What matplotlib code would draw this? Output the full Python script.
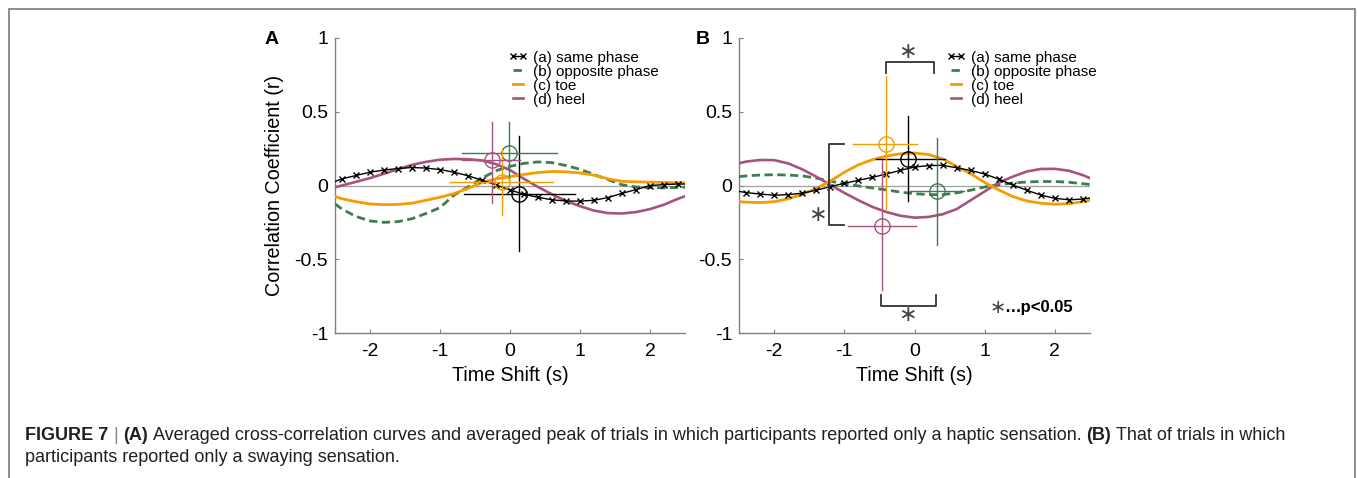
import matplotlib
matplotlib.use("Agg")
import matplotlib.pyplot as plt
from matplotlib.patches import Rectangle

plt.rcParams['font.family'] = ['Liberation Sans', 'DejaVu Sans']

# time axis samples (s)
t = [-2.5, -2.4, -2.2, -2.0, -1.8, -1.6, -1.4, -1.2, -1.0, -0.8, -0.6, -0.4, -0.2,
     0.0, 0.2, 0.4, 0.6, 0.8, 1.0, 1.2, 1.4, 1.6, 1.8, 2.0, 2.2, 2.4, 2.5]

# panel A : haptic sensation only
a_same  = [0.027, 0.045, 0.068, 0.090, 0.105, 0.115, 0.122, 0.118, 0.108, 0.090, 0.066, 0.036, 0.004,
           -0.030, -0.060, -0.080, -0.097, -0.105, -0.106, -0.100, -0.082, -0.053, -0.028, 0.000, 0.006, 0.010, 0.010]
a_opp   = [-0.125, -0.160, -0.210, -0.240, -0.250, -0.245, -0.225, -0.190, -0.150, -0.065, -0.010, 0.050, 0.100,
           0.130, 0.150, 0.160, 0.155, 0.135, 0.110, 0.075, 0.040, 0.005, -0.010, -0.015, -0.016, -0.013, -0.012]
a_toe   = [-0.075, -0.090, -0.110, -0.125, -0.130, -0.128, -0.120, -0.100, -0.080, -0.055, -0.020, 0.020, 0.045,
           0.060, 0.075, 0.088, 0.095, 0.093, 0.085, 0.070, 0.045, 0.028, 0.025, 0.023, 0.020, 0.018, 0.018]
a_heel  = [-0.012, 0.000, 0.025, 0.050, 0.080, 0.110, 0.140, 0.160, 0.175, 0.180, 0.178, 0.170, 0.145,
           0.105, 0.045, -0.010, -0.060, -0.105, -0.140, -0.170, -0.187, -0.190, -0.180, -0.160, -0.130, -0.090, -0.073]

# panel B : swaying sensation only
b_same  = [-0.040, -0.048, -0.058, -0.066, -0.062, -0.052, -0.032, -0.008, 0.015, 0.035, 0.055, 0.078, 0.103,
           0.125, 0.135, 0.137, 0.120, 0.102, 0.078, 0.043, 0.003, -0.032, -0.065, -0.087, -0.097, -0.092, -0.085]
b_opp   = [0.060, 0.065, 0.071, 0.073, 0.071, 0.065, 0.050, 0.030, 0.012, -0.003, -0.017, -0.030, -0.045,
           -0.055, -0.062, -0.062, -0.050, -0.032, -0.010, 0.005, 0.017, 0.024, 0.027, 0.027, 0.022, 0.012, 0.007]
b_toe   = [-0.110, -0.113, -0.116, -0.110, -0.090, -0.060, -0.020, 0.030, 0.090, 0.140, 0.175, 0.200, 0.215,
           0.220, 0.210, 0.180, 0.130, 0.080, 0.020, -0.030, -0.075, -0.105, -0.120, -0.127, -0.123, -0.110, -0.100]
b_heel  = [0.150, 0.162, 0.173, 0.172, 0.150, 0.110, 0.060, 0.005, -0.050, -0.100, -0.145, -0.180, -0.205,
           -0.218, -0.213, -0.195, -0.160, -0.100, -0.040, 0.020, 0.060, 0.095, 0.112, 0.113, 0.100, 0.070, 0.050]

# averaged peaks: order (a), (b), (c), (d)
a_peak_x  = [0.13, -0.01, -0.12, -0.26]
a_peak_y  = [-0.055, 0.22, 0.025, 0.170]
a_peak_x0 = [-0.66, -0.69, -0.86, -0.69]
a_peak_x1 = [0.93, 0.67, 0.62, 0.14]
a_peak_y0 = [-0.445, 0.04, -0.20, -0.12]
a_peak_y1 = [0.335, 0.43, 0.24, 0.43]

b_peak_x  = [-0.09, 0.32, -0.40, -0.46]
b_peak_y  = [0.182, -0.034, 0.284, -0.272]
b_peak_x0 = [-0.55, -0.06, -0.87, -0.95]
b_peak_x1 = [0.44, 0.70, 0.04, 0.02]
b_peak_y0 = [-0.105, -0.40, -0.16, -0.71]
b_peak_y1 = [0.47, 0.32, 0.743, 0.175]

labels = ['(a) same phase', '(b) opposite phase', '(c) toe', '(d) heel']
colors = ['black', '#3d7d50', '#f59c00', '#a6537f']

xticks = [-2, -1, 0, 1, 2]
xtick_labels = ['-2', '-1', '0', '1', '2']
yticks = [-1, -0.5, 0, 0.5, 1]
ytick_labels = ['-1', '-0.5', '0', '0.5', '1']

W, H = 1357, 478
fig = plt.figure(figsize=(W / 100, H / 100), dpi=100)
fig.add_artist(Rectangle((9 / W, -0.02), (1355 - 9) / W, 1.02 - 9 / H, transform=fig.transFigure,
                         fill=False, edgecolor='#7a7a7a', lw=1.2))

ax_a = fig.add_axes([335 / W, 1 - 333 / H, 350 / W, 295 / H])
ax_b = fig.add_axes([739 / W, 1 - 333 / H, 351 / W, 295 / H])


def draw_panel(ax, curves, px, py, px0, px1, py0, py1, legend_x):
    ax.axhline(0, color='#a0a0a0', lw=0.9, zorder=1)
    lines = []
    ln, = ax.plot(t, curves[0], color=colors[0], lw=1.0, marker='x', ms=4, mew=1.0,
                  markevery=slice(1, -1), zorder=5)
    lines.append(ln)
    ln, = ax.plot(t, curves[1], color=colors[1], lw=2.0, dashes=(3, 1.6), zorder=3)
    lines.append(ln)
    ln, = ax.plot(t, curves[2], color=colors[2], lw=2.0, zorder=4)
    lines.append(ln)
    ln, = ax.plot(t, curves[3], color=colors[3], lw=1.9, zorder=3)
    lines.append(ln)

    for i in range(4):
        ax.plot([px0[i], px1[i]], [py[i], py[i]], color=colors[i], lw=1.0, zorder=6)
        ax.plot([px[i], px[i]], [py0[i], py1[i]], color=colors[i], lw=1.0, zorder=6)
        ax.plot(px[i], py[i], marker='o', ms=11, mfc='none', mec=colors[i], mew=1.0, zorder=6)

    ax.set_xlim(-2.5, 2.5)
    ax.set_ylim(-1, 1)
    ax.set_xticks(xticks)
    ax.set_xticklabels(xtick_labels)
    ax.set_yticks(yticks)
    ax.set_yticklabels(ytick_labels)
    ax.tick_params(direction='in', length=3, width=0.8, color='#808080', labelsize=14, pad=5)
    ax.tick_params(axis='x', pad=7)
    for side in ['top', 'right']:
        ax.spines[side].set_visible(False)
    for side in ['left', 'bottom']:
        ax.spines[side].set_color('#808080')
        ax.spines[side].set_linewidth(1.0)
    ax.set_xlabel('Time Shift (s)', fontsize=14.1)
    ax.xaxis.set_label_coords(0.5, -0.112)

    ax.legend(lines, labels, loc='upper left', bbox_to_anchor=(legend_x, 0.957), frameon=False,
              fontsize=11, numpoints=2, handlelength=1.25, handletextpad=0.35,
              labelspacing=0.0, borderpad=0, borderaxespad=0)


draw_panel(ax_a, [a_same, a_opp, a_toe, a_heel], a_peak_x, a_peak_y, a_peak_x0, a_peak_x1,
           a_peak_y0, a_peak_y1, 0.495)
draw_panel(ax_b, [b_same, b_opp, b_toe, b_heel], b_peak_x, b_peak_y, b_peak_x0, b_peak_x1,
           b_peak_y0, b_peak_y1, 0.59)

ax_a.set_ylabel('Correlation Coefficient (r)', fontsize=14.2)
ax_a.yaxis.set_label_coords(-0.145, 0.5)

fig.text(272 / W, 1 - 40 / H, 'A', fontsize=14, fontweight='bold', ha='center', va='center')
fig.text(703 / W, 1 - 40 / H, 'B', fontsize=14, fontweight='bold', ha='center', va='center')

# significance brackets in panel B
bk = '#333333'
top_x = [-0.41, -0.41, 0.276, 0.276]
top_y = [0.765, 0.84, 0.84, 0.765]
bot_x = [-0.48, -0.48, 0.31, 0.31]
bot_y = [-0.74, -0.82, -0.82, -0.74]
left_x = [-1.01, -1.22, -1.22, -1.01]
left_y = [0.283, 0.283, -0.267, -0.267]
for bx, by in [(top_x, top_y), (bot_x, bot_y), (left_x, left_y)]:
    ax_b.plot(bx, by, color=bk, lw=1.3, zorder=7)
star_x = [-0.10, -0.10, -1.38]
star_y = [0.906, -0.876, -0.197]
for sx, sy in zip(star_x, star_y):
    ax_b.text(sx, sy, '\u2217', fontsize=16, family='DejaVu Sans', color='#444444', ha='center', va='center')
ax_b.text(1.18, -0.83, '\u2217', fontsize=14, family='DejaVu Sans', color='#444444', ha='center', va='center')
ax_b.text(1.27, -0.83, '\u2026p<0.05', fontsize=12, fontweight='bold', ha='left', va='center')

# caption
renderer = fig.canvas.get_renderer()
cap_size = 13
cap_color = '#231f20'


def text_width(s, weight):
    tmp = fig.text(0, 0, s, fontsize=cap_size, fontweight=weight)
    w = tmp.get_window_extent(renderer).width
    tmp.remove()
    return w


space_w = text_width('a a', 'normal') - text_width('aa', 'normal')


def caption_line(runs, x0, y):
    x = x0
    for i, (s, weight, color) in enumerate(runs):
        if i > 0:
            x += space_w
        txt = fig.text(x / W, y, s, fontsize=cap_size, fontweight=weight, color=color,
                       ha='left', va='center')
        x += txt.get_window_extent(renderer).width


caption_line([('FIGURE 7', 'bold', cap_color), ('|', 'normal', '#8a8a8a'), ('(A)', 'bold', cap_color),
              ('Averaged cross-correlation curves and averaged peak of trials in which participants '
               'reported only a haptic sensation.', 'normal', cap_color),
              ('(B)', 'bold', cap_color), ('That of trials in which', 'normal', cap_color)],
             25, 1 - 436 / H)
caption_line([('participants reported only a swaying sensation.', 'normal', cap_color)], 25, 1 - 458 / H)

fig.savefig('out.png', dpi=100)
